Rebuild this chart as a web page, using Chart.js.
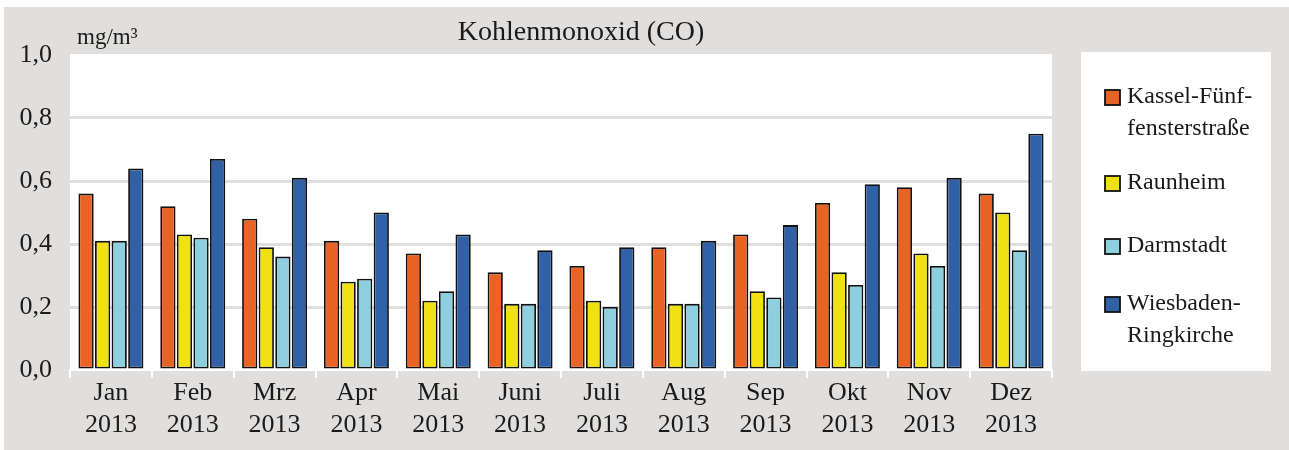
<!DOCTYPE html>
<html lang="de">
<head>
    <meta charset="UTF-8">
    <title>Kohlenmonoxid (CO)</title>
    <script src="https://cdn.jsdelivr.net/npm/chart.js"></script>
    <style>
        body {
            margin: 0;
            padding: 0;
            background: #ffffff;
        }
        .wrap {
            width: 1289px;
            height: 450px;
        }
    </style>
</head>
<body>
    <div class="wrap">
        <canvas id="coChart" width="1289" height="450"></canvas>
    </div>

    <script>
        // Monatsmittelwerte CO in mg/m³, 2013
        const months = ['Jan', 'Feb', 'Mrz', 'Apr', 'Mai', 'Juni', 'Juli', 'Aug', 'Sep', 'Okt', 'Nov', 'Dez'];
        const year = '2013';
        const kassel    = [0.56, 0.52, 0.48, 0.41, 0.37, 0.31, 0.33, 0.39, 0.43, 0.53, 0.58, 0.56];
        const raunheim  = [0.41, 0.43, 0.39, 0.28, 0.22, 0.21, 0.22, 0.21, 0.25, 0.31, 0.37, 0.50];
        const darmstadt = [0.41, 0.42, 0.36, 0.29, 0.25, 0.21, 0.20, 0.21, 0.23, 0.27, 0.33, 0.38];
        const wiesbaden = [0.64, 0.67, 0.61, 0.50, 0.43, 0.38, 0.39, 0.41, 0.46, 0.59, 0.61, 0.75];
        const yTicks = [0, 0.2, 0.4, 0.6, 0.8, 1.0];

        // Stationsnamen, zeilenweise wie in der Legende
        const stations = [
            ['Kassel-Fünf-', 'fensterstraße'],
            ['Raunheim'],
            ['Darmstadt'],
            ['Wiesbaden-', 'Ringkirche']
        ];

        const FONT = "'Liberation Serif', 'Times New Roman', serif";
        const TEXT = '#1a1a1a';
        const PANEL = '#e0dfde';
        const colors = ['#e96424', '#f0e114', '#8dcfdf', '#3060a6'];
        const series = [kassel, raunheim, darmstadt, wiesbaden];

        const fmt = v => v.toFixed(1).replace('.', ',');

        // Hintergrund: graue Fläche, weißer Diagrammbereich
        const backdrop = {
            id: 'backdrop',
            beforeDraw(chart) {
                const ctx = chart.ctx;
                const a = chart.chartArea;
                ctx.save();
                ctx.fillStyle = PANEL;
                ctx.fillRect(4, 7, chart.width - 4, chart.height - 7);
                ctx.fillStyle = '#ffffff';
                ctx.fillRect(a.left, a.top - 1, a.right - a.left, a.bottom - a.top + 1);
                ctx.restore();
            }
        };

        // Titel, Einheit und Legende im Kasten rechts
        const labels = {
            id: 'labels',
            afterDraw(chart) {
                const ctx = chart.ctx;
                const a = chart.chartArea;
                ctx.save();
                ctx.fillStyle = TEXT;
                ctx.textBaseline = 'middle';

                ctx.font = '28px ' + FONT;
                ctx.textAlign = 'center';
                ctx.fillText('Kohlenmonoxid (CO)', 581, 33);

                ctx.font = '23px ' + FONT;
                ctx.textAlign = 'left';
                ctx.fillText('mg/m³', a.left + 7, 38);

                // Legende
                ctx.fillStyle = '#ffffff';
                ctx.fillRect(1081, 52, 190, 319);
                const rows = [97, 183, 246, 304];
                ctx.font = '24px ' + FONT;
                chart.data.datasets.forEach((ds, i) => {
                    const y = rows[i];
                    ctx.fillStyle = ds.backgroundColor;
                    ctx.fillRect(1105, y - 7, 15, 15);
                    ctx.lineWidth = 1.8;
                    ctx.strokeStyle = '#111111';
                    ctx.strokeRect(1105, y - 7, 15, 15);
                    ctx.fillStyle = TEXT;
                    stations[i].forEach((line, j) => {
                        ctx.fillText(line, 1127, y + j * 32);
                    });
                });
                ctx.restore();
            }
        };

        const datasets = series.map((data, i) => ({
            label: stations[i].join(''),
            data: data,
            backgroundColor: colors[i],
            borderColor: '#111111',
            borderWidth: 1.8,
            borderSkipped: false,
            categoryPercentage: 0.81,
            barPercentage: 0.92
        }));

        new Chart(document.getElementById('coChart'), {
            type: 'bar',
            data: {
                labels: months.map(m => [m, year]),
                datasets: datasets
            },
            options: {
                responsive: false,
                animation: false,
                layout: {
                    padding: { left: 0, top: 55, right: 237, bottom: 0 }
                },
                plugins: {
                    legend: { display: false },
                    title: { display: false },
                    tooltip: { enabled: false }
                },
                scales: {
                    x: {
                        afterFit(scale) { scale.height = 80; },
                        border: { display: true, color: '#ffffff', width: 2 },
                        grid: {
                            offset: true,
                            drawOnChartArea: false,
                            drawTicks: true,
                            tickLength: 8,
                            color: '#ffffff',
                            lineWidth: 2
                        },
                        ticks: {
                            color: TEXT,
                            padding: 0,
                            font: { family: FONT, size: 26 }
                        }
                    },
                    y: {
                        min: 0,
                        max: 1,
                        afterFit(scale) { scale.width = 70; },
                        afterBuildTicks(scale) {
                            scale.ticks = yTicks.map(v => ({ value: v }));
                        },
                        border: { display: false },
                        grid: {
                            drawTicks: false,
                            lineWidth: 3,
                            color: c => (c.tick.value === 0 || c.tick.value === 1) ? 'rgba(0,0,0,0)' : PANEL
                        },
                        ticks: {
                            color: TEXT,
                            padding: 18,
                            font: { family: FONT, size: 26 },
                            callback: v => fmt(v)
                        }
                    }
                }
            },
            plugins: [backdrop, labels]
        });
    </script>
</body>
</html>
